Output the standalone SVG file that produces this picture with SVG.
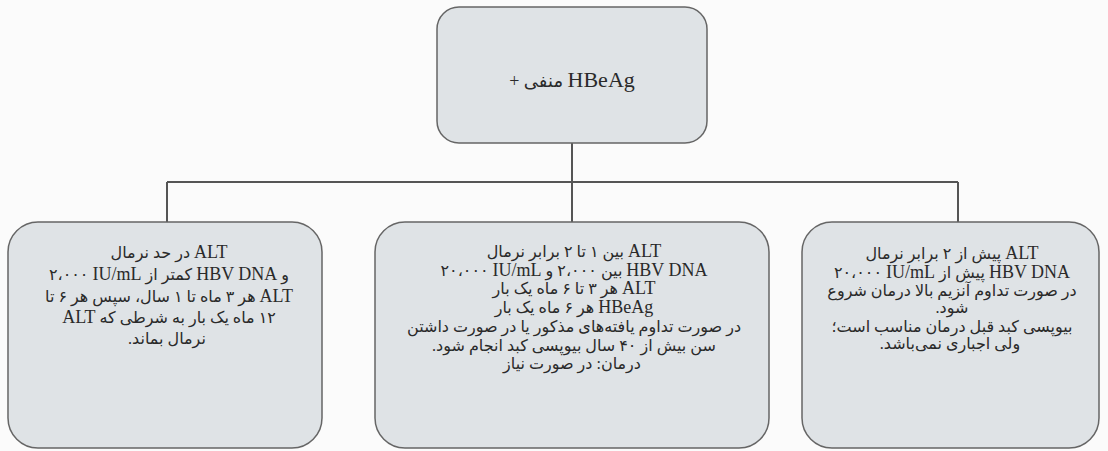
<svg xmlns="http://www.w3.org/2000/svg" width="1108" height="451" viewBox="0 0 1108 451">
<style>
.box{fill:#dfe3e6;stroke:#666;stroke-width:1.5}
.t{font-family:"Liberation Serif","DejaVu Sans",serif;font-size:16px;fill:#2a2a2a;text-anchor:middle}
.l{font-size:18px}
.con{stroke:#555;stroke-width:2;fill:none}
</style>
<rect width="1108" height="451" fill="#fbfbfb"/>
<g id="connectors">
<path class="con" d="M572 143V182M167 182H958M167 182V222M572 182V222M958 182V222"/>
</g>
<g id="top">
<rect class="box" x="437" y="7" width="270" height="136" rx="22"/>
<text class="t" x="572" y="87" direction="rtl" style="font-size:18px"><tspan style="font-size:22px">HBeAg</tspan> منفی +</text>
</g>
<g id="left">
<rect class="box" x="8" y="222" width="314" height="226" rx="30"/>
<text class="t" direction="rtl">
<tspan x="167" y="258"><tspan class="l">ALT</tspan> در حد نرمال</tspan>
<tspan x="167" y="280">و <tspan class="l">HBV DNA</tspan> کمتر از <tspan class="l">IU/mL</tspan>‏ ۲،۰۰۰</tspan>
<tspan x="167" y="302"><tspan class="l">ALT</tspan> هر ۳ ماه تا ۱ سال، سپس هر ۶ تا</tspan>
<tspan x="167" y="323">۱۲ ماه یک بار به شرطی که <tspan class="l">ALT</tspan></tspan>
<tspan x="167" y="344">نرمال بماند.</tspan>
</text>
</g>
<g id="middle">
<rect class="box" x="375" y="222" width="394" height="226" rx="30"/>
<text class="t" direction="rtl">
<tspan x="572" y="257"><tspan class="l">ALT</tspan> بین ۱ تا ۲ برابر نرمال</tspan>
<tspan x="572" y="276"><tspan class="l">HBV DNA</tspan> بین ۲،۰۰۰ و <tspan class="l">IU/mL</tspan>‏ ۲۰،۰۰۰</tspan>
<tspan x="572" y="294"><tspan class="l">ALT</tspan> هر ۳ تا ۶ ماه یک بار</tspan>
<tspan x="572" y="313"><tspan class="l">HBeAg</tspan> هر ۶ ماه یک بار</tspan>
<tspan x="572" y="332">در صورت تداوم یافته‌های مذکور یا در صورت داشتن</tspan>
<tspan x="572" y="351">سن بیش از ۴۰ سال بیوپسی کبد انجام شود.</tspan>
<tspan x="572" y="369">درمان: در صورت نیاز</tspan>
</text>
</g>
<g id="right">
<rect class="box" x="802" y="222" width="297" height="226" rx="30"/>
<text class="t" direction="rtl">
<tspan x="950" y="259"><tspan class="l">ALT</tspan> پیش از ۲ برابر نرمال</tspan>
<tspan x="950" y="278"><tspan class="l">HBV DNA</tspan> پیش از <tspan class="l">IU/mL</tspan>‏ ۲۰،۰۰۰</tspan>
<tspan x="950" y="296">در صورت تداوم آنزیم بالا درمان شروع</tspan>
<tspan x="950" y="313">شود.</tspan>
<tspan x="950" y="332">بیوپسی کبد قبل درمان مناسب است؛</tspan>
<tspan x="950" y="349">ولی اجباری نمی‌باشد.</tspan>
</text>
</g>
</svg>
